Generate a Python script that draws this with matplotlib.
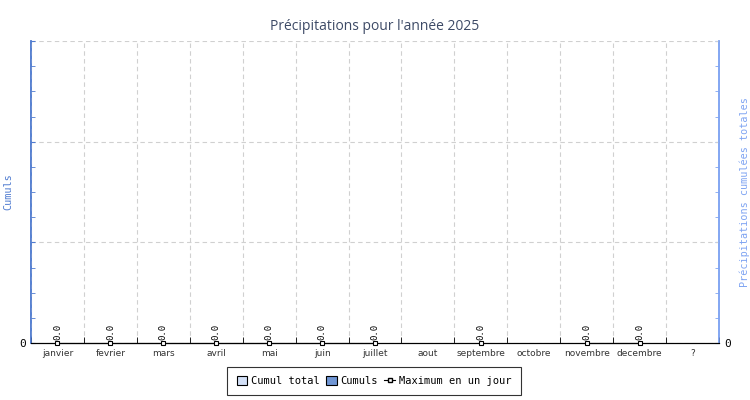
import numpy as np
import matplotlib.pyplot as plt
from matplotlib.patches import Patch
from matplotlib.lines import Line2D

mois = ['janvier', 'fevrier', 'mars', 'avril', 'mai', 'juin', 'juillet',
        'aout', 'septembre', 'octobre', 'novembre', 'decembre', '?']
nan = np.nan
cumuls = [0.0, 0.0, 0.0, 0.0, 0.0, 0.0, 0.0, nan, 0.0, nan, 0.0, 0.0, nan]
cumul_total = [0.0, 0.0, 0.0, 0.0, 0.0, 0.0, 0.0, nan, 0.0, nan, 0.0, 0.0, nan]
maximum_jour = [0.0, 0.0, 0.0, 0.0, 0.0, 0.0, 0.0, nan, 0.0, nan, 0.0, 0.0, nan]

mono = 'DejaVu Sans Mono'
c_left = '#4f7bd0'
c_right = '#7fa4f2'

fig = plt.figure(figsize=(7.5, 4), dpi=100)
ax = fig.add_axes([31 / 750, 57 / 400, 688 / 750, 302 / 400])
ax2 = ax.twinx()

x = np.arange(len(mois))
ax2.bar(x, np.nan_to_num(cumul_total), width=0.8, color='#d3e0f7', linewidth=0)
ax.bar(x, np.nan_to_num(cumuls), width=0.5, color='#7096d4', linewidth=0)
ax.plot(x, maximum_jour, color='black', lw=0.8, marker='s', ms=3.5,
        mfc='white', mec='black', mew=0.8, zorder=5, clip_on=False)
for xi, v in zip(x, maximum_jour):
    if not np.isnan(v):
        ax.annotate('%.1f' % v, (xi, v), xytext=(0, 2.5), textcoords='offset points',
                    rotation=90, ha='center', va='bottom', fontsize=6.5,
                    family=mono, color='black')

ax.set_xlim(-0.5, len(mois) - 0.5)
ax.set_ylim(0, 3)
ax2.set_ylim(0, 3)

ax.set_xticks(x)
ax.set_xticklabels(mois, fontsize=6.5, color='#333333')
ax.set_xticks(np.arange(len(mois) + 1) - 0.5, minor=True)
ax.tick_params(axis='x', which='major', length=0, pad=4)
ax.tick_params(axis='x', which='minor', direction='in', length=4, color='black')

ax.set_yticks([0, 1, 2, 3])
ax.set_yticklabels(['0', '', '', ''], fontsize=8, family=mono)
ax.set_yticks(np.arange(0, 3, 0.25), minor=True)
ax.tick_params(axis='y', which='both', direction='in', length=3, color=c_left)
ax2.set_yticks([0, 1, 2, 3])
ax2.set_yticklabels(['0', '', '', ''], fontsize=8, family=mono)
ax2.set_yticks(np.arange(0, 3, 0.25), minor=True)
ax2.tick_params(axis='y', which='both', direction='in', length=3, color=c_right)

ax.grid(True, which='major', axis='y', color='#d0d0d0', ls=(0, (4, 3)), lw=0.8)
ax.grid(True, which='minor', axis='x', color='#d0d0d0', ls=(0, (4, 3)), lw=0.8)
ax.set_axisbelow(True)

for a in (ax, ax2):
    a.spines['top'].set_visible(False)
    a.spines['bottom'].set_color('black')
    a.spines['left'].set_color(c_left)
    a.spines['right'].set_color(c_right)
    a.spines['left'].set_linewidth(1.1)
    a.spines['right'].set_linewidth(1.1)
ax.set_zorder(ax2.get_zorder() + 1)
ax.patch.set_visible(False)

fig.text(8 / 750, 1 - 192 / 400, 'Cumuls', family=mono, fontsize=7.3,
         color=c_left, rotation=90, ha='center', va='center')
fig.text(745 / 750, 1 - 192 / 400, 'Précipitations cumulées totales', family=mono,
         fontsize=7.3, color=c_right, rotation=90, ha='center', va='center')
ax.set_title("Précipitations pour l'année 2025", fontsize=10, color='#3d4a66',
             family='Open Sans', pad=8)

handles = [Patch(facecolor='#d3e0f7', edgecolor='black', lw=0.8),
           Patch(facecolor='#7096d4', edgecolor='black', lw=0.8),
           Line2D([], [], color='black', lw=0.8, marker='s', ms=3,
                  mfc='white', mec='black')]
leg = fig.legend(handles, ['Cumul total', 'Cumuls', 'Maximum en un jour'],
                 loc='center', bbox_to_anchor=(374 / 750, 19 / 400), ncol=3,
                 prop={'family': mono, 'size': 7.5}, frameon=True, fancybox=False,
                 edgecolor='black', handlelength=1.0, handleheight=1.0,
                 handletextpad=0.4, columnspacing=0.6, borderpad=0.9)
leg.get_frame().set_linewidth(0.8)

fig.savefig('out.png', dpi=100)
